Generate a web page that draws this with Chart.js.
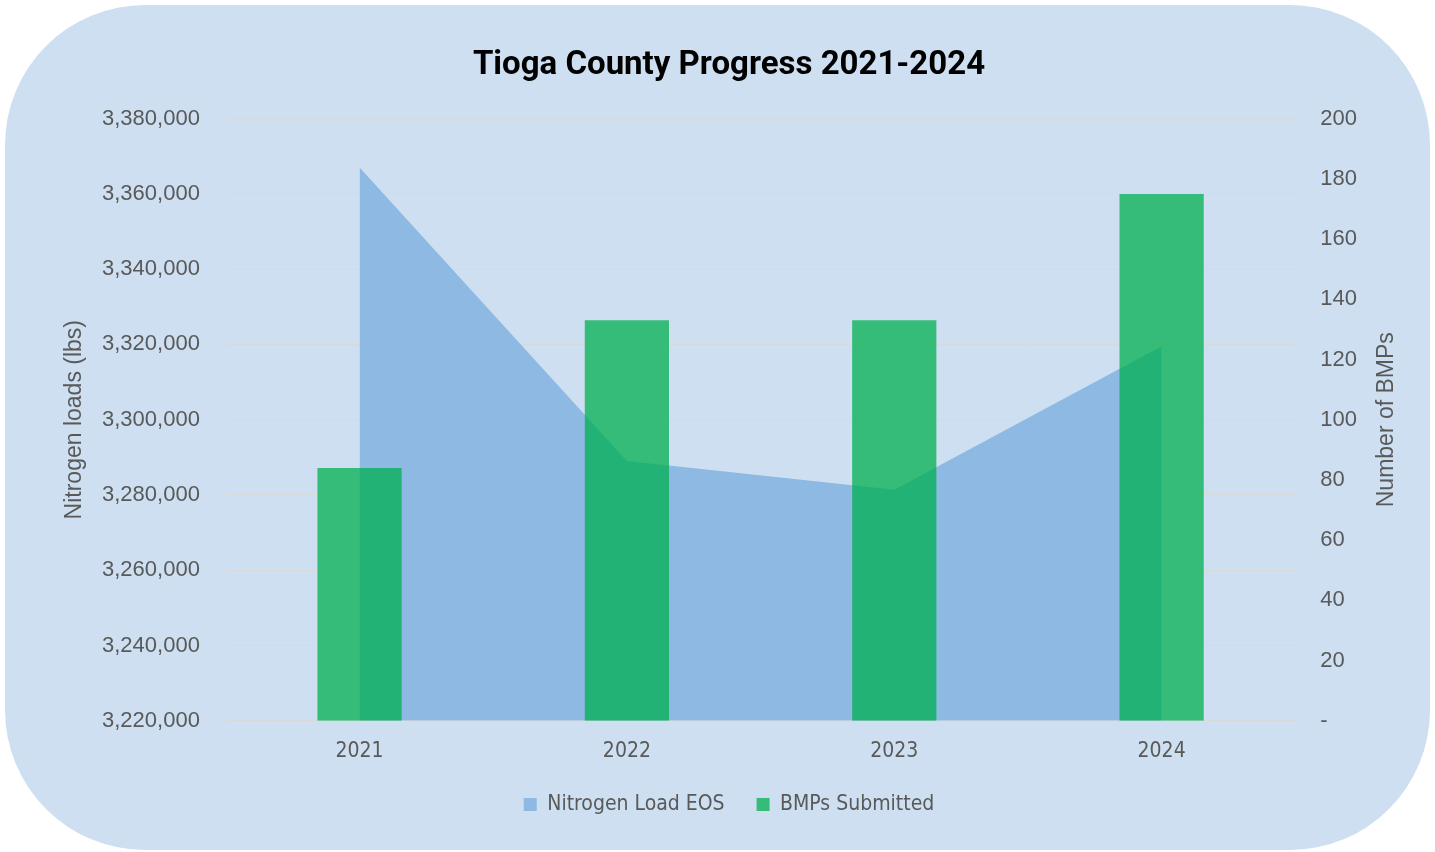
<!DOCTYPE html>
<html>
<head>
<meta charset="utf-8">
<script src="https://cdn.jsdelivr.net/npm/chart.js@4.4.1/dist/chart.umd.min.js"></script>
<style>
  html, body { margin: 0; padding: 0; background: #fff; }
  #wrap { position: absolute; left: 5px; top: 5px; width: 1425px; height: 845px;
          background: #cddff0; border-radius: 140px; }
  canvas { position: absolute; left: 0; top: 0; }
</style>
</head>
<body>
<div id="wrap"></div>
<canvas id="chart" width="1435" height="852"></canvas>
<script>
const years = ["2021", "2022", "2023", "2024"];
const nitrogenLoad = [3367000, 3289000, 3281400, 3319500];
const bmpsSubmitted = [84, 133, 133, 175];
const greyText = "#595959";
const narrow = "'DejaVu Sans Condensed', 'Liberation Sans', sans-serif";

// both axis titles read bottom-to-top, drawn by hand so they sit where Excel put them
const axisTitles = {
  id: "axisTitles",
  afterDraw(chart) {
    const mid = (chart.chartArea.top + chart.chartArea.bottom) / 2;
    const c = chart.ctx;
    const put = (text, x, size) => {
      c.save();
      c.translate(x, mid);
      c.rotate(-Math.PI / 2);
      c.fillStyle = greyText;
      c.font = size + "px 'Liberation Sans'";
      c.textAlign = "center";
      c.textBaseline = "middle";
      c.fillText(text, 0, 0);
      c.restore();
    };
    put("Nitrogen loads (lbs)", 75, 23);
    put("Number of BMPs", 1387, 23);
  }
};

const ctx = document.getElementById("chart");
new Chart(ctx, {
  type: "bar",
  data: {
    labels: years,
    datasets: [
      {
        type: "line",
        label: "Nitrogen Load EOS",
        data: nitrogenLoad,
        yAxisID: "y",
        backgroundColor: "#8db9e3",
        borderColor: "#8db9e3",
        borderWidth: 0,
        pointRadius: 0,
        fill: "start",
        tension: 0,
        order: 1
      },
      {
        label: "BMPs Submitted",
        data: bmpsSubmitted,
        yAxisID: "y1",
        backgroundColor: "rgba(0,176,80,0.75)",
        barPercentage: 1,
        categoryPercentage: 0.315,
        order: 0
      }
    ]
  },
  options: {
    responsive: false,
    animation: false,
    layout: { padding: { left: 76, right: 53, top: 0, bottom: 27 } },
    plugins: {
      title: {
        display: true,
        text: "Tioga County Progress 2021-2024",
        color: "#000",
        font: { family: "Roboto", size: 33, weight: "bold" },
        padding: { top: 46, bottom: 33 }
      },
      legend: {
        position: "bottom",
        labels: {
          sort: (a, b) => a.datasetIndex - b.datasetIndex,
          color: greyText,
          boxWidth: 13,
          boxHeight: 13,
          padding: 20,
          font: { family: narrow, size: 21 },
          generateLabels: chart => {
            const items = Chart.defaults.plugins.legend.labels.generateLabels(chart);
            items.forEach(it => { if (it.datasetIndex === 0) it.text += "  "; });
            return items;
          }
        }
      },
      tooltip: { enabled: false }
    },
    scales: {
      x: {
        grid: { display: false },
        border: { color: "#d9d9d9" },
        ticks: { color: greyText, padding: 10, font: { family: narrow, size: 21 } }
      },
      y: {
        position: "left",
        min: 3220000,
        max: 3380000,
        ticks: {
          stepSize: 20000,
          color: greyText,
          padding: 26,
          font: { family: "Liberation Sans", size: 22 },
          callback: v => v.toLocaleString("en-US")
        },
        grid: { color: "#d9d9d9", drawTicks: false },
        border: { display: false }
      },
      y1: {
        position: "right",
        min: 0,
        max: 200,
        ticks: {
          stepSize: 20,
          color: greyText,
          padding: 25,
          font: { family: "Liberation Sans", size: 22 },
          callback: v => (v === 0 ? "-" : v)
        },
        grid: { display: false, drawTicks: false },
        border: { display: false }
      }
    }
  },
  plugins: [axisTitles]
});
</script>
</body>
</html>
